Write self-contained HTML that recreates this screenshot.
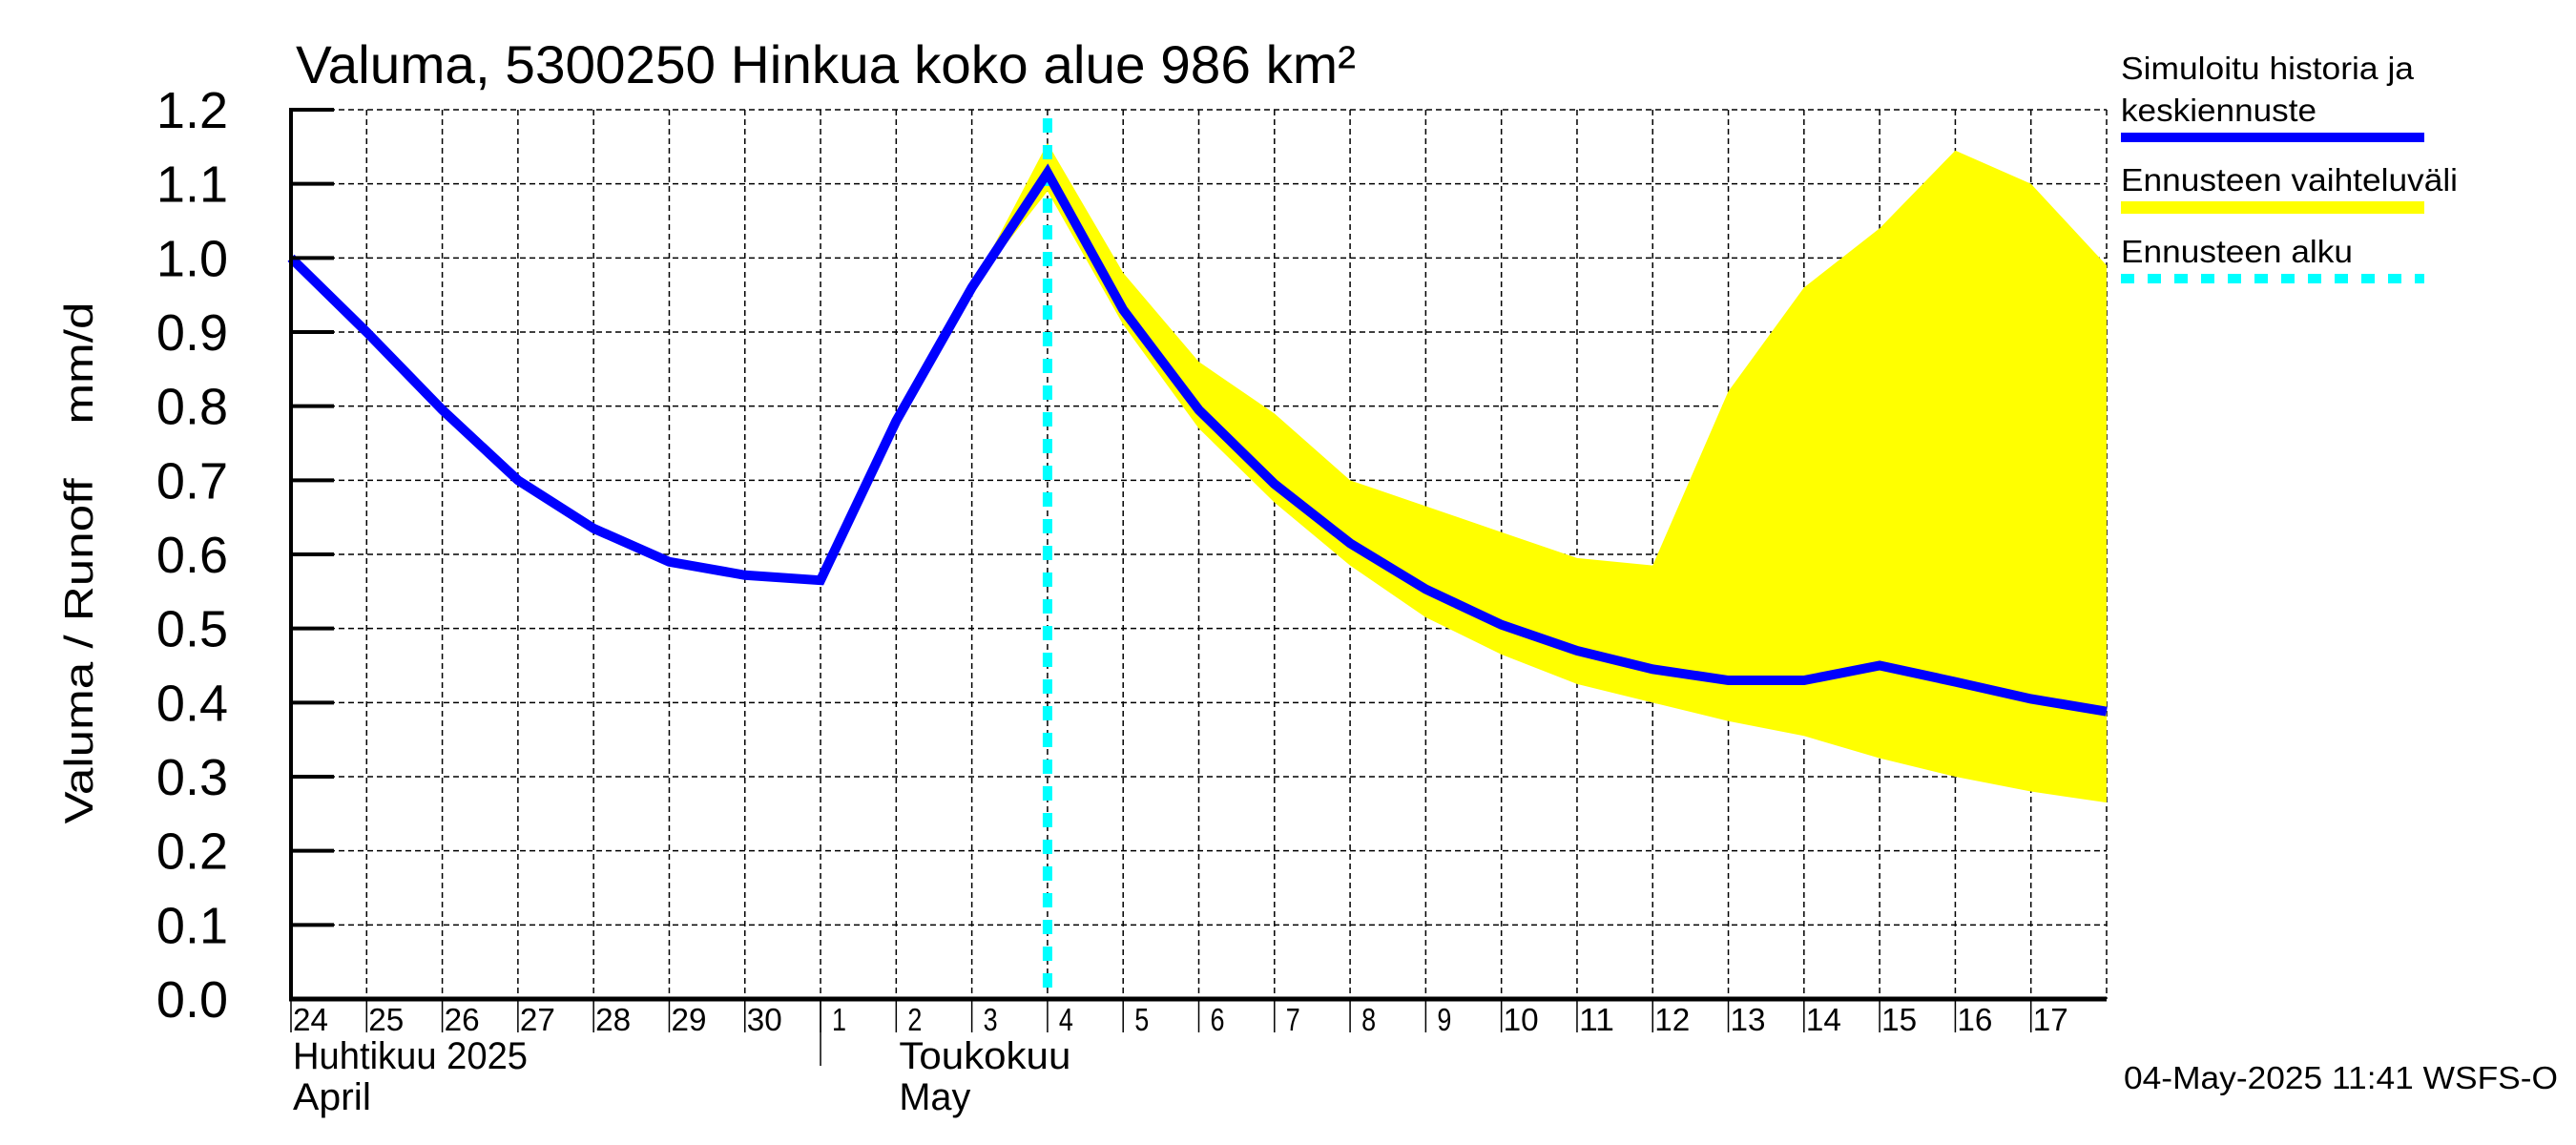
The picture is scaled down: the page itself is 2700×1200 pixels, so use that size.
<!DOCTYPE html>
<html><head><meta charset="utf-8"><style>
html,body{margin:0;padding:0;background:#fff;}
svg{display:block;font-family:"Liberation Sans",sans-serif;}
</style></head><body>
<svg id="chart" width="2700" height="1200" viewBox="0 0 2700 1200" xmlns="http://www.w3.org/2000/svg">
<text x="310" y="87" font-size="56" textLength="1111" lengthAdjust="spacingAndGlyphs">Valuma, 5300250 Hinkua koko alue 986 km²</text>
<g id="grid"></g>
<g id="band"></g>
<g id="fstart"></g>
<g id="line"></g>
<g id="axes"></g>
<text transform="translate(97,590) rotate(-90)" text-anchor="middle" font-size="42" textLength="547" lengthAdjust="spacingAndGlyphs" xml:space="preserve">Valuma / Runoff    mm/d</text>
<g>
<text x="2223" y="83" font-size="33" textLength="307" lengthAdjust="spacingAndGlyphs">Simuloitu historia ja</text>
<text x="2223" y="127" font-size="33" textLength="205" lengthAdjust="spacingAndGlyphs">keskiennuste</text>
<rect x="2223" y="139" width="318" height="10" fill="#0000ff"/>
<text x="2223" y="200" font-size="33" textLength="353" lengthAdjust="spacingAndGlyphs">Ennusteen vaihteluväli</text>
<rect x="2223" y="211" width="318" height="13" fill="#ffff00"/>
<text x="2223" y="275" font-size="33" textLength="243" lengthAdjust="spacingAndGlyphs">Ennusteen alku</text>
<line x1="2223" y1="292" x2="2541" y2="292" stroke="#00ffff" stroke-width="10" stroke-dasharray="14 14"/>
</g>
<text x="2681" y="1141" font-size="33" text-anchor="end" textLength="455" lengthAdjust="spacingAndGlyphs">04-May-2025 11:41 WSFS-O</text>
</svg>
<script>
const dayLabels=["24","25","26","27","28","29","30","1","2","3","4","5","6","7","8","9","10","11","12","13","14","15","16","17"];
const yTicks=[0,0.1,0.2,0.3,0.4,0.5,0.6,0.7,0.8,0.9,1.0,1.1,1.2];
const simDays=[0,1,2,3,4,5,6,7,8,9,10,11,12,13,14,15,16,17,18,19,20,21,22,23,24];
const simValues=[1.00,0.90,0.795,0.70,0.635,0.59,0.572,0.565,0.78,0.96,1.115,0.93,0.795,0.695,0.615,0.553,0.505,0.47,0.445,0.43,0.43,0.45,0.428,0.405,0.388];
const bandDays=[9,10,11,12,13,14,15,16,17,18,19,20,21,22,23,24];
const bandUpper=[0.96,1.155,0.98,0.86,0.79,0.70,0.665,0.63,0.595,0.585,0.82,0.96,1.04,1.145,1.10,0.99];
const bandLower=[0.96,1.09,0.91,0.77,0.67,0.585,0.515,0.465,0.425,0.40,0.375,0.355,0.325,0.30,0.28,0.265];
const forecastStartDay=10;
const X0=305,X1=2208,Y0=1047,Y1=115,NDAYS=24,YMAX=1.2;
const xs=d=>X0+(X1-X0)*d/NDAYS;
const ys=v=>Y0-(Y0-Y1)*v/YMAX;
const NS="http://www.w3.org/2000/svg";
function mk(tag,attrs,parent){const e=document.createElementNS(NS,tag);for(const k in attrs)e.setAttribute(k,attrs[k]);parent.appendChild(e);return e;}
const grid=document.getElementById('grid'),axes=document.getElementById('axes');
yTicks.forEach((t,i)=>{
  if(i>0){const g=mk('line',{x1:X0,x2:X1,y1:ys(t),y2:ys(t),stroke:'#000','stroke-width':1.5,'stroke-dasharray':'6 4'},grid);
  
  }
  const tk=mk('line',{x1:X0,x2:X0+45,y1:ys(t),y2:ys(t),stroke:'#000','stroke-width':4},axes);
  
  
  const lb=mk('text',{x:239,y:ys(t)+19,'font-size':54,'text-anchor':'end'},axes);
  
  
  lb.textContent=t.toFixed(1);
});
for(let d=1;d<=NDAYS;d++){
  const g=mk('line',{x1:xs(d),x2:xs(d),y1:Y1,y2:Y0,stroke:'#000','stroke-width':1.5,'stroke-dasharray':'6 4'},grid);
  
  
}
dayLabels.forEach((l,i)=>{
  const tk=mk('line',{x1:xs(i),x2:xs(i),y1:Y0,y2:Y0+35,stroke:'#000','stroke-width':1.5},axes);
  
  
  const t=mk('text',{x:xs(i)+(l.length>1?2:12),y:1080,'font-size':33,textLength:l.length>1?37:15,lengthAdjust:'spacingAndGlyphs'},axes);
  
  
  t.textContent=l;
});
// band
let pts=bandDays.map((d,i)=>xs(d)+','+ys(bandUpper[i]));
for(let i=bandDays.length-1;i>=0;i--)pts.push(xs(bandDays[i])+','+ys(bandLower[i]));
const poly=mk('polygon',{points:pts.join(' '),fill:'#ffff00'},document.getElementById('band'));


// forecast start
const fl=mk('line',{x1:xs(forecastStartDay),x2:xs(forecastStartDay),y1:124,y2:Y0,stroke:'#00ffff','stroke-width':10,'stroke-dasharray':'15 13'},document.getElementById('fstart'));


// sim line
const pl=mk('polyline',{points:simDays.map((d,i)=>xs(d)+','+ys(simValues[i])).join(' '),fill:'none',stroke:'#0000ff','stroke-width':10,'stroke-linejoin':'miter'},document.getElementById('line'));


// axes lines
const ya=mk('line',{x1:X0,x2:X0,y1:Y1-2,y2:Y0+2,stroke:'#000','stroke-width':4},axes);


const xa=mk('line',{x1:X0-2,x2:X1,y1:Y0,y2:Y0,stroke:'#000','stroke-width':5},axes);


const sep=mk('line',{x1:xs(7),x2:xs(7),y1:Y0,y2:1117,stroke:'#000','stroke-width':1.5},axes);


const months=[["Huhtikuu  2025",xs(0)+2,1120,246],["April",xs(0)+2,1163,82],["Toukokuu",xs(8)+3,1120,180],["May",xs(8)+3,1163,75]];
months.forEach(m=>{
  const t=mk('text',{x:m[1],y:m[2],'font-size':40,textLength:m[3],lengthAdjust:'spacingAndGlyphs','xml:space':'preserve'},axes);
  
  
  t.textContent=m[0];
});
</script>
</body></html>
